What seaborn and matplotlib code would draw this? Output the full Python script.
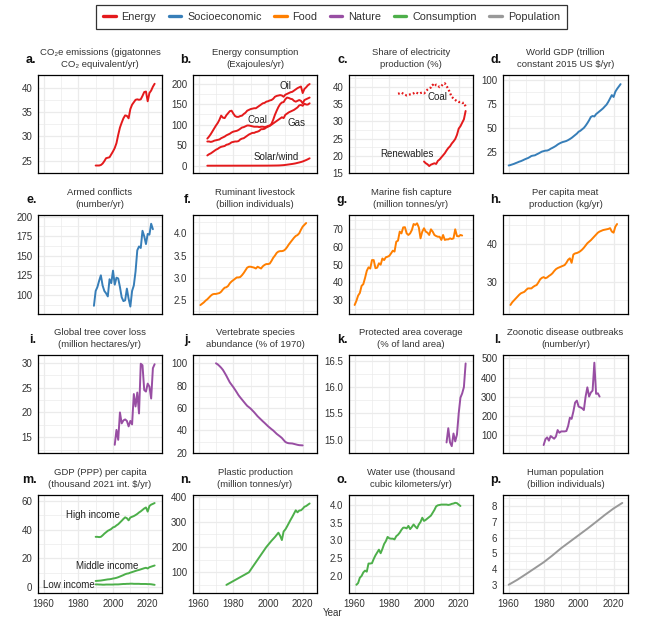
import numpy as np
import pandas as pd
import matplotlib
matplotlib.use("Agg")
import matplotlib.pyplot as plt
from matplotlib.lines import Line2D
from matplotlib.ticker import MultipleLocator
import seaborn as sns

sns.set_style("white")
plt.rcParams['font.family'] = ['Liberation Sans', 'DejaVu Sans']
plt.rcParams['axes.formatter.useoffset'] = False

# ---------------- colours ----------------
C_ENERGY = "#E41A1C"
C_SOCIO = "#377EB8"
C_FOOD = "#FF7F00"
C_NATURE = "#984EA3"
C_CONS = "#4DAF4A"
C_POP = "#999999"

categories = ["Energy", "Socioeconomic", "Food", "Nature", "Consumption", "Population"]
cat_colors = [C_ENERGY, C_SOCIO, C_FOOD, C_NATURE, C_CONS, C_POP]

# ---------------- data ----------------
# a. CO2e emissions 1990-2024
co2_years = list(range(1990, 2025))
co2_vals = [24.0, 24.0, 24.0, 24.1, 24.4, 24.9, 25.5, 25.6, 25.7, 26.3, 26.9, 27.6, 28.6,
            30.3, 31.8, 32.8, 33.7, 34.3, 34.2, 33.7, 35.6, 36.5, 37.0, 37.5, 37.6, 37.5,
            37.6, 38.3, 39.1, 39.2, 37.2, 38.9, 39.4, 40.2, 40.8]

# b. Energy consumption 1965-2024
energy_years = list(range(1965, 2025))
oil_vals = [66, 71, 77, 84, 91, 98, 104, 112, 122, 117, 116, 123, 128, 133, 134, 127, 121, 119,
            119, 121, 122, 126, 129, 134, 136, 138, 139, 140, 140, 143, 146, 149, 152, 153, 156,
            157, 159, 160, 163, 168, 170, 171, 172, 171, 168, 173, 175, 177, 179, 180, 183, 186,
            189, 191, 193, 177, 187, 191, 196, 199]
coal_vals = [59, 59, 58, 59, 61, 62, 63, 64, 67, 69, 71, 74, 76, 78, 81, 83, 84, 85, 87, 90,
             93, 94, 96, 98, 98, 97, 96, 95, 95, 95, 94, 95, 95, 94, 95, 97, 98, 102, 112, 124,
             134, 143, 150, 154, 155, 162, 166, 165, 163, 162, 158, 156, 158, 160, 158, 152,
             160, 162, 164, 166]
gas_vals = [25, 28, 30, 33, 36, 39, 41, 44, 46, 47, 48, 51, 52, 54, 57, 58, 59, 59, 60, 64,
            66, 67, 70, 73, 76, 78, 80, 80, 82, 83, 85, 89, 89, 90, 93, 95, 97, 100, 103, 106,
            109, 112, 115, 118, 116, 124, 127, 130, 132, 134, 136, 139, 142, 147, 148, 146,
            151, 149, 149, 152]
solar_years = [1965, 1990, 2000, 2005, 2006, 2007, 2008, 2009, 2010, 2011, 2012, 2013, 2014,
               2015, 2016, 2017, 2018, 2019, 2020, 2021, 2022, 2023, 2024]
solar_vals = [0.0, 0.1, 0.2, 0.5, 0.6, 0.8, 1.1, 1.4, 1.9, 2.5, 3.1, 3.7, 4.3, 5.0, 5.8, 6.9,
              7.9, 9.0, 10.3, 12.0, 13.8, 15.8, 18.0]

# c. Share of electricity production
coalshare_years = list(range(1985, 2025))
coalshare_vals = [38.0, 38.1, 38.3, 38.0, 37.7, 37.5, 37.6, 37.8, 37.9, 38.1, 38.4, 38.2, 38.0,
                  38.2, 38.3, 38.1, 38.5, 39.2, 39.6, 39.8, 40.6, 40.1, 40.6, 40.3, 39.9, 40.2,
                  40.8, 41.0, 40.2, 39.4, 38.2, 37.1, 36.6, 36.2, 35.8, 35.6, 35.6, 35.3, 35.4,
                  34.3]
renew_years = list(range(2000, 2025))
renew_vals = [18.4, 17.9, 17.6, 17.1, 17.5, 17.7, 17.9, 17.7, 18.6, 19.0, 19.6, 20.2, 20.8,
              21.6, 22.3, 22.8, 23.6, 24.2, 24.9, 26.1, 27.9, 28.6, 29.6, 30.6, 33.0]

# d. World GDP 1960-2024
gdp_years = list(range(1960, 2025))
gdp_vals = [10.5, 11.0, 11.6, 12.2, 13.0, 13.7, 14.5, 15.1, 15.9, 16.8, 17.6, 18.3, 19.3, 20.5,
            20.9, 21.2, 22.2, 23.1, 24.1, 25.1, 25.6, 26.1, 26.2, 26.9, 28.1, 29.0, 30.0, 31.1,
            32.5, 33.6, 34.5, 35.2, 35.7, 36.3, 37.2, 38.3, 39.5, 41.0, 42.5, 44.0, 46.0, 47.0,
            48.5, 50.0, 52.3, 55.0, 58.0, 61.5, 62.5, 62.0, 64.5, 66.0, 67.5, 69.0, 70.6, 72.6,
            74.5, 77.5, 81.0, 84.5, 82.5, 88.0, 91.0, 93.5, 96.0]

# e. Armed conflicts 1989-2023
conf_years = list(range(1989, 2024))
conf_vals = [86, 105, 110, 118, 125, 112, 105, 102, 98, 120, 115, 131, 113, 122, 121, 110, 97,
             92, 93, 108, 95, 85, 105, 112, 130, 157, 162, 160, 182, 175, 165, 178, 177, 191, 184]

# f. Ruminant livestock 1961-2022
rum_years = list(range(1961, 2023))
rum_vals = [2.39, 2.42, 2.45, 2.49, 2.52, 2.56, 2.60, 2.63, 2.64, 2.64, 2.65, 2.66, 2.69, 2.74,
            2.78, 2.79, 2.82, 2.88, 2.92, 2.95, 2.98, 3.01, 3.01, 3.02, 3.06, 3.11, 3.17, 3.23,
            3.25, 3.25, 3.24, 3.23, 3.21, 3.25, 3.23, 3.21, 3.26, 3.29, 3.31, 3.31, 3.32, 3.38,
            3.45, 3.50, 3.56, 3.59, 3.60, 3.60, 3.61, 3.64, 3.69, 3.75, 3.80, 3.85, 3.90, 3.94,
            3.96, 4.00, 4.08, 4.15, 4.19, 4.23]

# g. Marine fish capture 1960-2022
fish_years = list(range(1960, 2023))
fish_vals = [27.2, 29.5, 32.5, 34.0, 38.0, 39.0, 42.5, 46.5, 48.5, 47.8, 52.6, 52.6, 48.0, 48.3,
             50.8, 50.0, 53.5, 52.6, 54.2, 54.5, 55.0, 56.4, 57.9, 57.4, 63.0, 63.6, 68.7, 67.7,
             71.1, 71.2, 67.7, 66.8, 67.7, 69.6, 73.0, 72.5, 73.4, 71.1, 64.9, 68.7, 70.6, 68.7,
             68.1, 66.8, 70.0, 68.7, 66.8, 66.2, 65.8, 65.8, 64.0, 66.8, 64.0, 64.3, 64.3, 64.9,
             64.5, 64.9, 70.0, 66.2, 66.0, 66.8, 66.5]

# h. Per capita meat production 1961-2022
meat_years = list(range(1961, 2023))
meat_vals = [23.8, 24.5, 25.0, 25.5, 26.0, 26.5, 26.9, 27.1, 27.3, 27.8, 28.2, 28.2, 28.2, 28.6,
             28.9, 29.1, 29.8, 30.6, 31.0, 31.2, 30.9, 31.1, 31.5, 31.8, 32.2, 32.8, 33.3, 33.6,
             33.8, 34.0, 34.2, 34.4, 35.0, 35.8, 36.2, 35.0, 37.2, 37.5, 37.6, 37.8, 38.1, 38.5,
             39.0, 39.6, 40.2, 40.6, 41.0, 41.5, 42.0, 42.5, 43.0, 43.3, 43.5, 43.7, 43.8, 43.9,
             44.0, 44.2, 43.3, 43.0, 44.6, 45.3]

# i. Global tree cover loss 2001-2024
tree_years = list(range(2001, 2025))
tree_vals = [13.5, 16.5, 14.5, 20.0, 17.8, 18.4, 18.6, 18.3, 17.2, 18.3, 17.6, 23.7, 21.2, 24.0,
             19.8, 29.8, 29.5, 24.5, 24.2, 25.8, 25.2, 22.8, 28.9, 29.7]

# j. Vertebrate species abundance 1970-2020
lpi_years = list(range(1970, 2021))
lpi_vals = [100.0, 99.0, 97.6, 96.0, 94.1, 91.5, 88.8, 85.8, 82.9, 80.8, 78.7, 76.4, 74.0, 71.5,
            69.5, 67.6, 65.7, 63.8, 62.0, 60.8, 59.5, 57.9, 56.3, 54.5, 52.7, 51.2, 49.7, 48.2,
            46.8, 45.3, 43.8, 42.5, 41.2, 40.0, 38.5, 37.0, 35.8, 34.6, 33.3, 31.5, 29.8, 29.0,
            28.6, 28.5, 28.4, 28.0, 27.6, 27.2, 26.9, 26.8, 26.7]

# k. Protected area coverage 2013-2024
pa_years = list(range(2013, 2025))
pa_vals = [14.95, 15.22, 14.95, 14.88, 15.12, 14.97, 15.10, 15.50, 15.80, 15.88, 16.00, 16.45]

# l. Zoonotic disease outbreaks 1980-2012
zoo_years = list(range(1980, 2013))
zoo_vals = [49, 79, 89, 72, 96, 89, 82, 93, 127, 113, 120, 120, 120, 122, 148, 191, 185, 223,
            270, 280, 249, 245, 240, 231, 301, 349, 301, 322, 332, 477, 315, 318, 301]

# m. GDP (PPP) per capita 1990-2024
inc_years = list(range(1990, 2025))
high_vals = [35.0, 35.0, 34.8, 35.0, 36.0, 37.2, 38.2, 39.2, 39.8, 40.5, 41.6, 42.0, 43.0, 43.8,
             45.0, 46.2, 47.5, 48.6, 48.0, 46.5, 48.5, 49.0, 49.5, 50.2, 51.0, 52.0, 52.8, 53.8,
             54.8, 55.5, 52.6, 56.5, 57.5, 58.0, 58.6]
mid_vals = [4.2, 4.3, 4.4, 4.5, 4.7, 4.9, 5.1, 5.3, 5.4, 5.6, 5.9, 6.1, 6.4, 6.8, 7.3, 7.8, 8.3,
            8.9, 9.3, 9.5, 10.0, 10.4, 10.8, 11.2, 11.6, 11.9, 12.3, 12.7, 13.1, 13.4, 12.9,
            13.8, 14.2, 14.6, 15.0]
low_vals = [1.8, 1.8, 1.7, 1.7, 1.6, 1.6, 1.7, 1.7, 1.7, 1.7, 1.7, 1.8, 1.8, 1.8, 1.9, 2.0, 2.1,
            2.1, 2.2, 2.2, 2.3, 2.3, 2.2, 2.2, 2.2, 2.2, 2.1, 2.1, 2.1, 2.1, 2.0, 2.0, 1.9, 1.7,
            1.5]

# n. Plastic production
plastic_years = [1976, 1989, 1999, 2002, 2004, 2006, 2007, 2008, 2009, 2010, 2011, 2012, 2013,
                 2014, 2015, 2016, 2017, 2018, 2019, 2020, 2021, 2022, 2023, 2024]
plastic_vals = [50, 100, 200, 225, 240, 257, 245, 228, 262, 270, 282, 295, 308, 320, 333, 346,
                338, 345, 346, 352, 360, 363, 368, 373]

# o. Water use 1961-2021
water_years = list(range(1961, 2022))
water_vals = [1.75, 1.80, 1.95, 2.00, 2.10, 2.15, 2.12, 2.35, 2.35, 2.36, 2.48, 2.58, 2.66, 2.74,
              2.64, 2.76, 2.90, 2.98, 3.10, 3.06, 3.05, 3.05, 3.03, 3.12, 3.16, 3.22, 3.30, 3.36,
              3.36, 3.34, 3.41, 3.32, 3.38, 3.45, 3.39, 3.34, 3.45, 3.52, 3.64, 3.55, 3.58, 3.62,
              3.66, 3.70, 3.78, 3.86, 3.96, 3.99, 4.00, 4.01, 4.01, 4.01, 4.01, 4.00, 4.01, 4.03,
              4.04, 4.06, 4.05, 4.01, 3.97]

# p. Human population
pop_years = [1960, 1965, 1970, 1975, 1980, 1985, 1990, 1995, 2000, 2005, 2010, 2015, 2020, 2025]
pop_vals = [3.02, 3.34, 3.70, 4.07, 4.44, 4.87, 5.33, 5.74, 6.15, 6.56, 6.99, 7.43, 7.84, 8.19]

panel_letters = list("abcdefghijklmnop")
panel_titles = [
    "CO\u2082e emissions (gigatonnes\nCO\u2082 equivalent/yr)",
    "Energy consumption\n(Exajoules/yr)",
    "Share of electricity\nproduction (%)",
    "World GDP (trillion\nconstant 2015 US $/yr)",
    "Armed conflicts\n(number/yr)",
    "Ruminant livestock\n(billion individuals)",
    "Marine fish capture\n(million tonnes/yr)",
    "Per capita meat\nproduction (kg/yr)",
    "Global tree cover loss\n(million hectares/yr)",
    "Vertebrate species\nabundance (% of 1970)",
    "Protected area coverage\n(% of land area)",
    "Zoonotic disease outbreaks\n(number/yr)",
    "GDP (PPP) per capita\n(thousand 2021 int. $/yr)",
    "Plastic production\n(million tonnes/yr)",
    "Water use (thousand\ncubic kilometers/yr)",
    "Human population\n(billion individuals)",
]

# series per panel: (years, values, colour, linestyle)
series = [
    [(co2_years, co2_vals, C_ENERGY, "-")],
    [(energy_years, oil_vals, C_ENERGY, "-"), (energy_years, coal_vals, C_ENERGY, "-"),
     (energy_years, gas_vals, C_ENERGY, "-"), (solar_years, solar_vals, C_ENERGY, "-")],
    [(coalshare_years, coalshare_vals, C_ENERGY, (0, (0.8, 1.0))),
     (renew_years, renew_vals, C_ENERGY, "-")],
    [(gdp_years, gdp_vals, C_SOCIO, "-")],
    [(conf_years, conf_vals, C_SOCIO, "-")],
    [(rum_years, rum_vals, C_FOOD, "-")],
    [(fish_years, fish_vals, C_FOOD, "-")],
    [(meat_years, meat_vals, C_FOOD, "-")],
    [(tree_years, tree_vals, C_NATURE, "-")],
    [(lpi_years, lpi_vals, C_NATURE, "-")],
    [(pa_years, pa_vals, C_NATURE, "-")],
    [(zoo_years, zoo_vals, C_NATURE, "-")],
    [(inc_years, high_vals, C_CONS, "-"), (inc_years, mid_vals, C_CONS, "-"),
     (inc_years, low_vals, C_CONS, "-")],
    [(plastic_years, plastic_vals, C_CONS, "-")],
    [(water_years, water_vals, C_CONS, "-")],
    [(pop_years, pop_vals, C_POP, "-")],
]

ylims = [(22.4, 42.6), (-18.5, 221), (15.0, 43.4), (2.3, 105.6),
         (75.5, 202.2), (2.19, 4.41), (22.1, 78.1), (21.4, 47.7),
         (11.85, 31.55), (19.9, 107.4), (14.75, 16.61), (7.8, 517),
         (-4.2, 64.2), (17.9, 406.7), (1.52, 4.28), (2.5, 8.69)]
ysteps = [5, 50, 5, 25, 25, 0.5, 10, 10, 5, 20, 0.5, 100, 20, 100, 0.5, 1]

# labels inside panels: (panel index, x, y, text, ha)
annotations = [
    (1, 2010, 194, "Oil", "center"), (1, 1994, 112, "Coal", "center"),
    (1, 2016.5, 104, "Gas", "center"), (1, 2005, 22, "Solar/wind", "center"),
    (2, 2008, 36.9, "Coal", "center"), (2, 1990, 20.6, "Renewables", "center"),
    (12, 1988.5, 50.2, "High income", "center"), (12, 1996.5, 14.6, "Middle income", "center"),
    (12, 1989.5, 1.5, "Low income", "right"),
]

# ---------------- figure ----------------
W, H = 646, 622
fig = plt.figure(figsize=(W / 100, H / 100), dpi=100)

col_lr = [(38, 162), (193, 317), (349, 473), (503, 628)]
row_tb = [(75, 173.3), (215, 314), (355, 453), (495, 593)]

TXT = "#333333"
GRID = "#EBEBEB"

axes = []
for idx in range(16):
    r, c = divmod(idx, 4)
    l, rr = col_lr[c]
    t, b = row_tb[r]
    ax = fig.add_axes([l / W, 1 - b / H, (rr - l) / W, (b - t) / H])
    axes.append(ax)
    for yrs, vals, col, ls in series[idx]:
        df = pd.DataFrame({"year": yrs, "value": vals})
        lw = 1.6 if ls != "-" else 1.4
        sns.lineplot(data=df, x="year", y="value", ax=ax, color=col, lw=lw,
                     linestyle=ls, legend=False)
    ax.set_xlim(1956.75, 2028.25)
    ax.set_ylim(*ylims[idx])
    ax.xaxis.set_major_locator(MultipleLocator(20))
    ax.xaxis.set_minor_locator(MultipleLocator(10))
    ax.yaxis.set_major_locator(MultipleLocator(ysteps[idx]))
    ax.yaxis.set_minor_locator(MultipleLocator(ysteps[idx] / 2))
    ax.grid(which="major", color=GRID, lw=0.9)
    ax.grid(which="minor", color=GRID, lw=0.5)
    ax.set_axisbelow(True)
    ax.set_xlabel("")
    ax.set_ylabel("")
    for sp in ax.spines.values():
        sp.set_color("black")
        sp.set_linewidth(0.9)
    ax.tick_params(axis="y", which="major", length=2.6, width=0.6, color=TXT,
                   labelsize=7, labelcolor=TXT, pad=1.5)
    ax.tick_params(which="minor", length=0)
    if r == 3:
        ax.tick_params(axis="x", which="major", length=2.6, width=0.6, color=TXT,
                       labelsize=7, labelcolor=TXT, pad=1.5)
    else:
        ax.tick_params(axis="x", which="major", length=0, labelbottom=False)
    ax.annotate(panel_titles[idx], xy=(0.5, 1.0), xycoords="axes fraction",
                xytext=(0, 4), textcoords="offset points", ha="center", va="bottom",
                fontsize=6.8, color=TXT, linespacing=1.45)
    ax.annotate(panel_letters[idx] + ".", xy=(0.0, 1.0), xycoords="axes fraction",
                xytext=(-1, 11), textcoords="offset points", ha="right", va="center",
                fontsize=9, fontweight="bold", color="#111111")

for pi, x, y, txt, ha in annotations:
    axes[pi].text(x, y, txt, ha=ha, va="center", fontsize=7, color="#222222")

handles = [Line2D([0], [0], color=cc, lw=2.4) for cc in cat_colors]
leg = fig.legend(handles, categories, loc="center", bbox_to_anchor=(331.5 / W, 1 - 17 / H),
                 ncol=6, frameon=True, fancybox=False, fontsize=7.8, handlelength=1.15,
                 handletextpad=0.55, columnspacing=1.15, borderpad=0.65, borderaxespad=0)
leg.get_frame().set_edgecolor("black")
leg.get_frame().set_linewidth(0.9)
for t in leg.get_texts():
    t.set_color(TXT)

fig.text(323 / W, 1 - 613 / H, "Year", ha="left", va="center", fontsize=7, color=TXT)

fig.savefig("out.png", dpi=100)
